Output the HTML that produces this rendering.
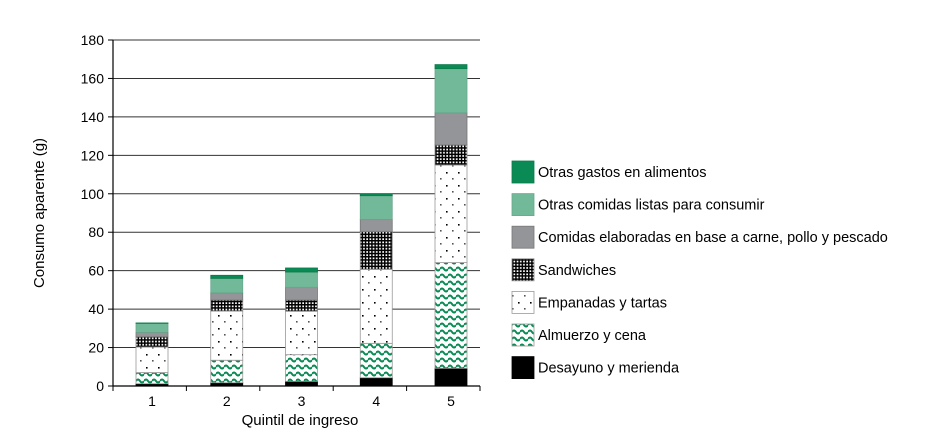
<!DOCTYPE html>
<html><head><meta charset="utf-8"><style>
body{margin:0;background:#fff;}
svg text{font-family:"Liberation Sans",sans-serif;fill:#000;}
</style></head><body>
<svg id="chart" width="946" height="442" xmlns="http://www.w3.org/2000/svg">
<defs>
<pattern id="p-wave" patternUnits="userSpaceOnUse" width="8" height="7"><rect width="8" height="7" fill="#fff"/><path d="M0,3 Q2,0 4,3 T8,3" stroke="#0a8a55" stroke-width="2" fill="none"/></pattern>
<pattern id="p-dots" patternUnits="userSpaceOnUse" width="12" height="13"><rect width="12" height="13" fill="#fff"/><rect x="2" y="3" width="1.6" height="1.6" fill="#000"/><rect x="8" y="9" width="1.6" height="1.6" fill="#555"/></pattern>
<pattern id="p-grid" patternUnits="userSpaceOnUse" width="3.2" height="3.2"><rect width="3.2" height="3.2" fill="#fff"/><rect width="1.5" height="3.2" fill="#000"/><rect width="3.2" height="1.5" fill="#000"/></pattern>
</defs>
<g id="grid"></g><g id="bars"></g><g id="axes"></g><g id="legend"></g>
<text transform="translate(44,213) rotate(-90)" text-anchor="middle" font-size="15">Consumo aparente (g)</text>
<text x="300" y="425" text-anchor="middle" font-size="15">Quintil de ingreso</text>
</svg>
<script>
const categories = ["1","2","3","4","5"];
const seriesNames = ["Desayuno y merienda","Almuerzo y cena","Empanadas y tartas","Sandwiches","Comidas elaboradas en base a carne, pollo y pescado","Otras comidas listas para consumir","Otras gastos en alimentos"];
const desayuno = [1.2,1.7,2.4,4.3,9.2];
const almuerzo = [5.8,11.7,13.9,17.9,55];
const empanadas = [13.3,25.6,22.6,38.5,50.8];
const sandwiches = [5.3,5.7,5.8,19.6,10.4];
const carne = [2.3,3.8,6.7,6.4,16.8];
const otrasComidas = [4.7,7.5,7.9,12.3,22.9];
const otrasGastos = [0.2,1.6,2.1,1.0,2.1];
const yTicks = [0,20,40,60,80,100,120,140,160,180];

const series=[desayuno,almuerzo,empanadas,sandwiches,carne,otrasComidas,otrasGastos];
const fills=["#000","url(#p-wave)","url(#p-dots)","url(#p-grid)","#939598","#72b99a","#0a8a55"];
const strokes=["#000","#999","#999","#888","#777","#6aa88c","#0a7a48"];
const NS="http://www.w3.org/2000/svg";
const x0=113,x1=480,y0=386,yTop=40,yMax=180;
const y=v=>y0-(v/yMax)*(y0-yTop);
const band=74.75, first=152;
const xc=i=>first+i*band;
function el(t,a,p){const e=document.createElementNS(NS,t);for(const k in a)e.setAttribute(k,a[k]);p.appendChild(e);return e;}
const g=document.getElementById('grid'),b=document.getElementById('bars'),ax=document.getElementById('axes'),lg=document.getElementById('legend');
yTicks.forEach(t=>{
  if(t>0){const l=el('line',{x1:x0,x2:x1,y1:y(t),y2:y(t),stroke:"#333","stroke-width":1},g);
  
  }
  const tk=el('line',{x1:x0-5,x2:x0,y1:y(t),y2:y(t),stroke:"#000"},ax);
  
  
  const tx=el('text',{x:x0-9,y:y(t)+5,"text-anchor":"end","font-size":14},ax);tx.textContent=t;
  
  
});
categories.forEach((c,i)=>{
  let acc=0;
  series.forEach((s,k)=>{
    const v=s[i];const r=el('rect',{x:xc(i)-16,width:32,y:y(acc+v),height:Math.max(0,y(acc)-y(acc+v)),fill:fills[k],stroke:strokes[k],"stroke-width":0.8},b);
    
    
    acc+=v;
  });
  const tx=el('text',{x:xc(i),y:406,"text-anchor":"middle","font-size":14},ax);tx.textContent=c;
  
  
});
for(let i=0;i<=5;i++){const t=el('line',{x1:x0+i*73.4,x2:x0+i*73.4,y1:y0,y2:y0+5,stroke:"#000"},ax);

}
const ya=el('line',{x1:x0,x2:x0,y1:yTop,y2:y0,stroke:"#000","stroke-width":1.2},ax);


const xa=el('line',{x1:x0,x2:x1,y1:y0,y2:y0,stroke:"#000","stroke-width":1.2},ax);


for(let k=6;k>=0;k--){
  const row=6-k, top=161+row*32.6;
  const r=el('rect',{x:512,y:top,width:22,height:22,fill:fills[k],stroke:strokes[k],"stroke-width":0.8},lg);
  
  
  const t=el('text',{x:538,y:top+16,"font-size":14.5},lg);t.textContent=seriesNames[k];
  
  
}
</script>
</body></html>
